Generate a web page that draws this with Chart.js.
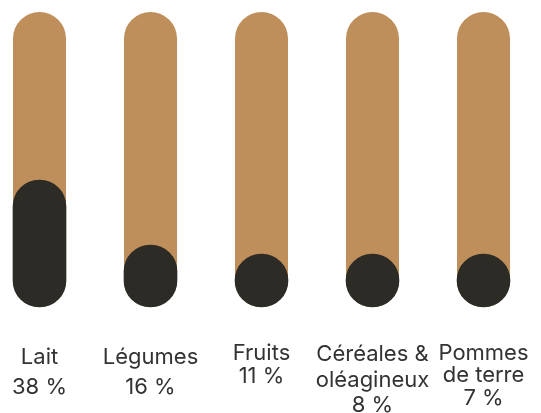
<!DOCTYPE html>
<html>
<head>
<meta charset="utf-8">
<script src="https://cdn.jsdelivr.net/npm/chart.js@4"></script>
<style>
  html, body { margin: 0; padding: 0; background: #fff; }
  #wrap { width: 541px; height: 413px; }
</style>
</head>
<body>
<div id="wrap"><canvas id="chart"></canvas></div>
<script>
// catégories et parts (%)
const categories = [['Lait'], ['Légumes'], ['Fruits'], ['Céréales &', 'oléagineux'], ['Pommes', 'de terre']];
const shares = [38, 16, 11, 8, 7];
// hauteur de ligne des étiquettes, par colonne
const labelLineHeights = [30, 30, 23, 25.5, 22.5];

const yMin = -5;
const yMax = 95;
const trackColor = '#BF8F5B';
const fillColor = '#2D2B26';

// étiquettes : nom + part
const labels = categories.map((lines, i) => [...lines, shares[i] + ' %']);

// fond arrondi derrière chaque colonne
const trackPlugin = {
  id: 'track',
  beforeDatasetsDraw(chart) {
    const ctx = chart.ctx;
    const y = chart.scales.y;
    const top = y.getPixelForValue(yMax);
    const bottom = y.getPixelForValue(yMin);
    ctx.save();
    ctx.fillStyle = trackColor;
    chart.getDatasetMeta(0).data.forEach(bar => {
      const w = bar.width;
      ctx.beginPath();
      ctx.roundRect(bar.x - w / 2, top, w, bottom - top, w / 2);
      ctx.fill();
    });
    ctx.restore();
  }
};

new Chart(document.getElementById('chart'), {
  type: 'bar',
  data: {
    labels: labels,
    datasets: [{
      data: shares,
      backgroundColor: fillColor,
      borderRadius: 100,
      borderSkipped: false,
      barThickness: 53,
      minBarLength: 53,
      base: yMin,
      clip: false
    }]
  },
  options: {
    responsive: true,
    maintainAspectRatio: false,
    animation: false,
    events: [],
    layout: {
      padding: { top: 12, left: 39.5, right: 57.5, bottom: 0 }
    },
    plugins: {
      legend: { display: false },
      tooltip: { enabled: false }
    },
    scales: {
      x: {
        offset: false,
        grid: { display: false },
        border: { display: false },
        afterFit(scale) {
          scale.height = 106;
          scale.paddingLeft = 0;
          scale.paddingRight = 0;
        },
        ticks: {
          color: '#333333',
          padding: 27,
          maxRotation: 0,
          autoSkip: false,
          font: (c) => ({ family: 'Inter', size: 22, lineHeight: labelLineHeights[c.index] + 'px' })
        }
      },
      y: {
        display: false,
        min: yMin,
        max: yMax
      }
    }
  },
  plugins: [trackPlugin]
});
</script>
</body>
</html>
